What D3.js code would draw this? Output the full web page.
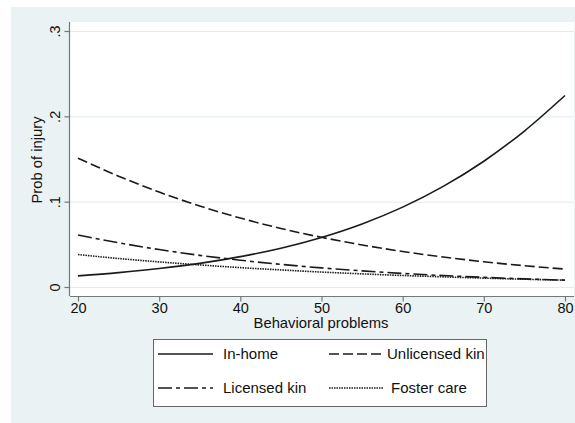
<!DOCTYPE html>
<html><head><meta charset="utf-8">
<script src="https://cdn.jsdelivr.net/npm/d3@7"></script>
<style>body{margin:0;background:#fff}svg{display:block}text{font-family:"Liberation Sans",Arial,sans-serif;fill:#111}</style>
</head><body><svg id="c" width="575" height="423"></svg>
<script>
const behavioral = [20,25,30,35,40,45,50,55,60,65,70,75,80];
const inHome      = [0.0130,0.0168,0.0216,0.0277,0.0356,0.0455,0.0581,0.0739,0.0936,0.1179,0.1474,0.1828,0.2244];
const unlicensed  = [0.1510,0.1299,0.1112,0.0949,0.0808,0.0686,0.0582,0.0493,0.0416,0.0351,0.0296,0.0249,0.0210];
const licensed    = [0.0610,0.0518,0.0439,0.0371,0.0314,0.0265,0.0224,0.0189,0.0159,0.0134,0.0113,0.0095,0.0080];
const foster      = [0.0380,0.0334,0.0294,0.0259,0.0227,0.0200,0.0175,0.0154,0.0135,0.0119,0.0104,0.0091,0.0080];
const xTicks = [20,30,40,50,60,70,80];
const yTicks = [0,0.1,0.2,0.3];
const yTickLabels = ["0",".1",".2",".3"];
const seriesNames = ["In-home","Unlicensed kin","Licensed kin","Foster care"];

const svg = d3.select("#c");
svg.append("rect").attr("x",11).attr("y",7).attr("width",564).attr("height",416).attr("fill","#eaf2f3");
const L=70,R=574,T=22,B=296;
svg.append("rect").attr("x",L).attr("y",T).attr("width",R-L).attr("height",B-T).attr("fill","#fff");
const x = d3.scaleLinear().domain([20,80]).range([78,565]);
const y = d3.scaleLinear().domain([0,0.3]).range([287,31]);

// gridlines
svg.append("g").selectAll("line").data(yTicks).join("line")
  .attr("x1",L).attr("x2",R).attr("y1",d=>y(d)+0.5).attr("y2",d=>y(d)+0.5)
  .attr("stroke","#e2ecef").attr("stroke-width",1);

// axes
const yAxis = svg.append("g").attr("transform",`translate(${L-0.5},0)`)
  .call(d3.axisLeft(y).tickValues(yTicks).tickFormat((d,i)=>yTickLabels[i]).tickSize(5).tickPadding(6));
const xAxis = svg.append("g").attr("transform",`translate(0,${B+0.5})`)
  .call(d3.axisBottom(x).tickValues(xTicks).tickSize(5).tickPadding(4));
[yAxis,xAxis].forEach(a=>{
  a.select(".domain").attr("stroke","#777").attr("stroke-width",1.2);
  a.selectAll(".tick line").attr("stroke","#777").attr("stroke-width",1.2);
  a.selectAll("text").style("font-size","14.5px").attr("fill","#111");
});
yAxis.select(".domain").attr("d",`M0,${T}V${B}`);
xAxis.select(".domain").attr("d",`M${L},0H${R}`);
xAxis.selectAll(".tick text").attr("y",16.5).attr("dy",0);
yAxis.selectAll(".tick text")
  .attr("text-anchor","middle").attr("x",0).attr("y",0).attr("dy","0.35em")
  .attr("transform","translate(-15,0) rotate(-90)");

svg.append("text").attr("x",321).attr("y",327.5).attr("text-anchor","middle").style("font-size","14.8px").text("Behavioral problems");
svg.append("text").attr("transform","translate(42,160) rotate(-90)").attr("text-anchor","middle").style("font-size","14.8px").text("Prob of injury");

const styles = [
  {d:null},
  {d:"10,4"},
  {d:"14,4,4,4"},
  {d:"1.5,1"}
];
const data = [inHome,unlicensed,licensed,foster];
const line = d3.line().x((d,i)=>x(behavioral[i])).y(d=>y(d)).curve(d3.curveMonotoneX);
svg.append("g").selectAll("path").data(data).join("path")
  .attr("d",d=>line(d)).attr("fill","none").attr("stroke","#1a1a1a").attr("stroke-width",1.6)
  .attr("stroke-dasharray",(d,i)=>styles[i].d);

// legend
const lg = svg.append("g");
lg.append("rect").attr("x",153.5).attr("y",339.5).attr("width",333).attr("height",67).attr("fill","#fff").attr("stroke","#666").attr("stroke-width",1);
const pos = [[158,354,223],[329,354,387],[158,388,223],[329,388,391]];
seriesNames.forEach((n,i)=>{
  const [lx,ly,tx]=pos[i];
  lg.append("line").attr("x1",lx).attr("x2",lx+55).attr("y1",ly).attr("y2",ly)
    .attr("stroke","#1a1a1a").attr("stroke-width",1.4).attr("stroke-dasharray",styles[i].d);
  lg.append("text").attr("x",tx).attr("y",ly).attr("dy","0.35em").style("font-size","15px").text(n);
});
</script></body></html>
